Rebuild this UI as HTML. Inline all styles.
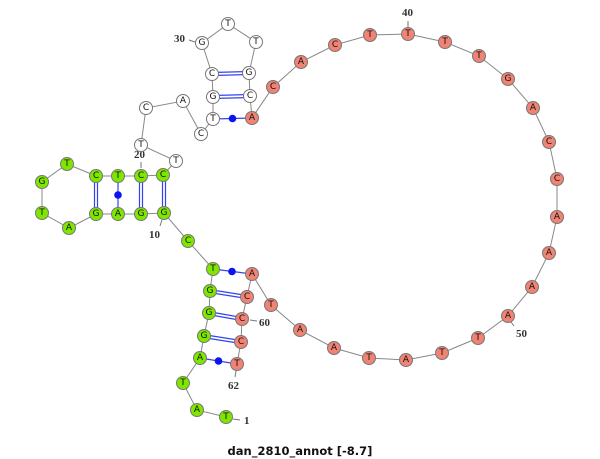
<!DOCTYPE html>
<html><head><meta charset="utf-8"><style>
html,body{margin:0;padding:0;background:#fff}
svg{display:block}
.n text{font-family:"DejaVu Sans","Liberation Sans",sans-serif;font-size:9px;text-anchor:middle;dominant-baseline:central;fill:#111}
.lbl{font-family:"Liberation Serif",serif;font-weight:bold;font-size:11px;fill:#333}
</style></head><body>
<svg width="600" height="459" viewBox="0 0 600 459" xmlns="http://www.w3.org/2000/svg">
<polyline fill="none" stroke="#888" stroke-width="1" points="226,417 197,410 183,383 200,358 204,336 209,313 210,291 213,269 188,241 164,213 141,214 118,214 96,214 69,228 42,213 42,182 67,164 96,176 118,176 141,176 163,175 176,161 141,145 146,108 183,101 201,134 213,119 213,97 212,74 202,43 228,24 256,42 249,73 250,96 252,118 273,87 301,62 335,45 370,35 408,34 445,42 479,56 508,79 533,108 549,142 557,179 557,217 549,253 532,287 508,316 478,338 442,353 406,360 369,358 334,348 300,330 271,305 252,274 247,297 242,319 241,342 237,364"/>
<g stroke="#3344ee" stroke-width="1.2" fill="none">
<path d="M208,311.5 L242,317.5 M208,314.5 L242,320.5"/>
<path d="M209,289.5 L247,295.5 M209,292.5 L247,298.5"/>
<path d="M203,334.5 L241,340.5 M203,337.5 L241,343.5"/>
<path d="M162.5,175 L162.5,213 M165.5,175 L165.5,213"/>
<path d="M139.5,176 L139.5,214 M142.5,176 L142.5,214"/>
<path d="M94.5,176 L94.5,214 M97.5,176 L97.5,214"/>
<path d="M213,95.5 L250,94.5 M213,98.5 L250,97.5"/>
<path d="M212,72.5 L249,71.5 M212,75.5 L249,74.5"/>
<path d="M213,269 L252,274"/>
<path d="M200,358 L237,364"/>
<path d="M118,176 L118,214"/>
<path d="M213,119 L252,118"/>
</g>
<g fill="#0a14ee">
<circle cx="232" cy="271.5" r="3.8"/>
<circle cx="218.5" cy="361" r="3.8"/>
<circle cx="118" cy="195" r="3.8"/>
<circle cx="232.5" cy="118.5" r="3.8"/>
</g>
<g stroke="#777" stroke-width="1">
<line x1="233" y1="419" x2="240" y2="420"/>
<line x1="236" y1="371" x2="235" y2="377"/>
<line x1="250" y1="320" x2="257" y2="321"/>
<line x1="162" y1="220" x2="160" y2="226"/>
<line x1="141" y1="168" x2="141" y2="162"/>
<line x1="195" y1="42" x2="189" y2="40"/>
<line x1="408" y1="27" x2="408" y2="21"/>
<line x1="511" y1="322" x2="514" y2="326"/>
</g>
<g class="lbl">
<text x="244" y="424">1</text>
<text x="228" y="389">62</text>
<text x="259" y="326">60</text>
<text x="149" y="238">10</text>
<text x="134" y="158">20</text>
<text x="174" y="42">30</text>
<text x="402" y="16">40</text>
<text x="516" y="337">50</text>
</g>
<g class="n" stroke="#777" stroke-width="1">
<g fill="#7fe600">
<circle cx="226" cy="417" r="6.5"/><circle cx="197" cy="410" r="6.5"/><circle cx="183" cy="383" r="6.5"/><circle cx="200" cy="358" r="6.5"/><circle cx="204" cy="336" r="6.5"/><circle cx="209" cy="313" r="6.5"/><circle cx="210" cy="291" r="6.5"/><circle cx="213" cy="269" r="6.5"/><circle cx="188" cy="241" r="6.5"/><circle cx="164" cy="213" r="6.5"/><circle cx="141" cy="214" r="6.5"/><circle cx="118" cy="214" r="6.5"/><circle cx="96" cy="214" r="6.5"/><circle cx="69" cy="228" r="6.5"/><circle cx="42" cy="213" r="6.5"/><circle cx="42" cy="182" r="6.5"/><circle cx="67" cy="164" r="6.5"/><circle cx="96" cy="176" r="6.5"/><circle cx="118" cy="176" r="6.5"/><circle cx="141" cy="176" r="6.5"/><circle cx="163" cy="175" r="6.5"/>
</g>
<g fill="#fff">
<circle cx="176" cy="161" r="6.5"/><circle cx="141" cy="145" r="6.5"/><circle cx="146" cy="108" r="6.5"/><circle cx="183" cy="101" r="6.5"/><circle cx="201" cy="134" r="6.5"/><circle cx="213" cy="119" r="6.5"/><circle cx="213" cy="97" r="6.5"/><circle cx="212" cy="74" r="6.5"/><circle cx="202" cy="43" r="6.5"/><circle cx="228" cy="24" r="6.5"/><circle cx="256" cy="42" r="6.5"/><circle cx="249" cy="73" r="6.5"/><circle cx="250" cy="96" r="6.5"/>
</g>
<g fill="#f08373">
<circle cx="252" cy="118" r="6.5"/><circle cx="273" cy="87" r="6.5"/><circle cx="301" cy="62" r="6.5"/><circle cx="335" cy="45" r="6.5"/><circle cx="370" cy="35" r="6.5"/><circle cx="408" cy="34" r="6.5"/><circle cx="445" cy="42" r="6.5"/><circle cx="479" cy="56" r="6.5"/><circle cx="508" cy="79" r="6.5"/><circle cx="533" cy="108" r="6.5"/><circle cx="549" cy="142" r="6.5"/><circle cx="557" cy="179" r="6.5"/><circle cx="557" cy="217" r="6.5"/><circle cx="549" cy="253" r="6.5"/><circle cx="532" cy="287" r="6.5"/><circle cx="508" cy="316" r="6.5"/><circle cx="478" cy="338" r="6.5"/><circle cx="442" cy="353" r="6.5"/><circle cx="406" cy="360" r="6.5"/><circle cx="369" cy="358" r="6.5"/><circle cx="334" cy="348" r="6.5"/><circle cx="300" cy="330" r="6.5"/><circle cx="271" cy="305" r="6.5"/><circle cx="252" cy="274" r="6.5"/><circle cx="247" cy="297" r="6.5"/><circle cx="242" cy="319" r="6.5"/><circle cx="241" cy="342" r="6.5"/><circle cx="237" cy="364" r="6.5"/>
</g>
<g stroke="none">
<text x="226" y="417">T</text><text x="197" y="410">A</text><text x="183" y="383">T</text><text x="200" y="358">A</text><text x="204" y="336">G</text><text x="209" y="313">G</text><text x="210" y="291">G</text><text x="213" y="269">T</text><text x="188" y="241">C</text><text x="164" y="213">G</text><text x="141" y="214">G</text><text x="118" y="214">A</text><text x="96" y="214">G</text><text x="69" y="228">A</text><text x="42" y="213">T</text><text x="42" y="182">G</text><text x="67" y="164">T</text><text x="96" y="176">C</text><text x="118" y="176">T</text><text x="141" y="176">C</text><text x="163" y="175">C</text>
<text x="176" y="161">T</text><text x="141" y="145">T</text><text x="146" y="108">C</text><text x="183" y="101">A</text><text x="201" y="134">C</text><text x="213" y="119">T</text><text x="213" y="97">G</text><text x="212" y="74">C</text><text x="202" y="43">G</text><text x="228" y="24">T</text><text x="256" y="42">T</text><text x="249" y="73">G</text><text x="250" y="96">C</text>
<text x="252" y="118">A</text><text x="273" y="87">C</text><text x="301" y="62">A</text><text x="335" y="45">C</text><text x="370" y="35">T</text><text x="408" y="34">T</text><text x="445" y="42">T</text><text x="479" y="56">T</text><text x="508" y="79">G</text><text x="533" y="108">A</text><text x="549" y="142">C</text><text x="557" y="179">C</text><text x="557" y="217">A</text><text x="549" y="253">A</text><text x="532" y="287">A</text><text x="508" y="316">A</text><text x="478" y="338">T</text><text x="442" y="353">T</text><text x="406" y="360">A</text><text x="369" y="358">T</text><text x="334" y="348">A</text><text x="300" y="330">A</text><text x="271" y="305">T</text><text x="252" y="274">A</text><text x="247" y="297">C</text><text x="242" y="319">C</text><text x="241" y="342">C</text><text x="237" y="364">T</text>
</g>
</g>
<text x="300" y="455" text-anchor="middle" style="font-family:'DejaVu Sans','Liberation Sans',sans-serif;font-size:11.5px;font-weight:bold;fill:#111">dan_2810_annot [-8.7]</text>
</svg>
</body></html>
